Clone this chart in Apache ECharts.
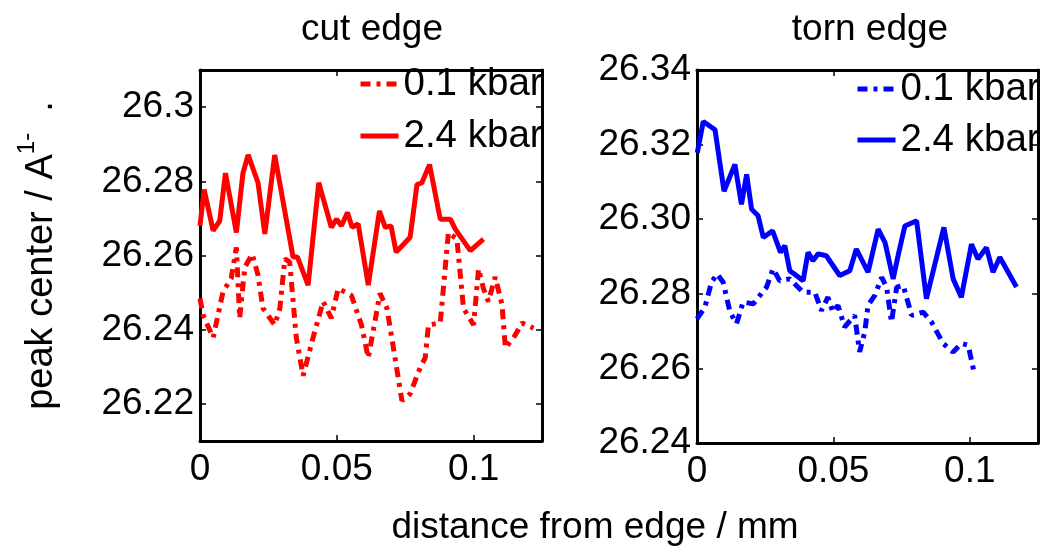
<!DOCTYPE html>
<html>
<head>
<meta charset="utf-8">
<script src="https://cdn.jsdelivr.net/npm/echarts@6/dist/echarts.min.js"></script>
<style>
html,body{margin:0;padding:0;background:#fff;}
#chart{width:1041px;height:551px;}
</style>
</head>
<body>
<div id="chart"></div>
<script>
// ---- data ----
var cutX01 = [0, 0.0011, 0.0048, 0.0066, 0.0084, 0.0114, 0.0133, 0.0145, 0.0164, 0.0191, 0.0212, 0.023, 0.0273, 0.0292, 0.031, 0.0328, 0.0352, 0.0377, 0.0413, 0.045, 0.048, 0.0505, 0.0553, 0.059, 0.0615, 0.0658, 0.0683, 0.0701, 0.0738, 0.0768, 0.0805, 0.0823, 0.0835, 0.0878, 0.0908, 0.0939, 0.0963, 0.1, 0.1018, 0.1036, 0.1054, 0.1079, 0.1104, 0.1116, 0.1146, 0.1177, 0.1219];
var cutY01 = [26.2484, 26.244, 26.2378, 26.244, 26.2502, 26.2538, 26.2622, 26.2431, 26.2569, 26.2604, 26.2547, 26.2458, 26.2413, 26.2458, 26.2591, 26.2582, 26.2378, 26.2276, 26.2378, 26.2476, 26.2431, 26.2511, 26.2493, 26.2413, 26.2324, 26.2498, 26.2458, 26.2378, 26.2209, 26.2227, 26.2298, 26.2324, 26.2413, 26.2418, 26.2662, 26.2644, 26.2458, 26.2413, 26.2564, 26.2511, 26.2476, 26.2542, 26.2467, 26.2351, 26.2378, 26.2418, 26.2404];
var cutX24 = [0, 0.0015, 0.0048, 0.0072, 0.0093, 0.0133, 0.0157, 0.0176, 0.0212, 0.0237, 0.0273, 0.034, 0.0356, 0.0395, 0.0434, 0.048, 0.0499, 0.0517, 0.0539, 0.0556, 0.0578, 0.0615, 0.0656, 0.0677, 0.0698, 0.0717, 0.0768, 0.0793, 0.0811, 0.0839, 0.0878, 0.0915, 0.0933, 0.0988, 0.1036];
var cutY24 = [26.268, 26.2778, 26.2667, 26.2693, 26.2822, 26.2662, 26.2822, 26.2871, 26.2796, 26.2658, 26.2871, 26.2596, 26.2596, 26.252, 26.2796, 26.2676, 26.2698, 26.268, 26.2716, 26.2676, 26.2685, 26.252, 26.272, 26.2676, 26.268, 26.2609, 26.2649, 26.2791, 26.2796, 26.2845, 26.2698, 26.2698, 26.2671, 26.2613, 26.2644];
var tornX01 = [0, 0.0029, 0.0053, 0.0074, 0.0096, 0.0121, 0.0145, 0.0169, 0.0206, 0.0255, 0.0279, 0.0303, 0.034, 0.0389, 0.0432, 0.0456, 0.048, 0.0498, 0.0517, 0.0541, 0.0578, 0.0596, 0.0615, 0.0627, 0.0652, 0.0677, 0.0695, 0.0713, 0.0732, 0.0756, 0.0787, 0.0829, 0.086, 0.0902, 0.0939, 0.0969, 0.0994, 0.1018];
var tornY01 = [26.2733, 26.2764, 26.2831, 26.2853, 26.2831, 26.2751, 26.272, 26.2778, 26.2773, 26.2818, 26.2867, 26.2835, 26.284, 26.2804, 26.2804, 26.2755, 26.2791, 26.2751, 26.2769, 26.2711, 26.2742, 26.2644, 26.2698, 26.2769, 26.2796, 26.2844, 26.2818, 26.2724, 26.2818, 26.2822, 26.2742, 26.2751, 26.2724, 26.2667, 26.2644, 26.2667, 26.2662, 26.2582];
var tornX24 = [0.0001, 0.0023, 0.0066, 0.0099, 0.0139, 0.0163, 0.0182, 0.02, 0.0224, 0.0243, 0.0277, 0.0306, 0.0322, 0.034, 0.0364, 0.0389, 0.0407, 0.0425, 0.0444, 0.0474, 0.0523, 0.056, 0.0584, 0.0627, 0.0664, 0.0689, 0.0719, 0.0737, 0.0762, 0.0805, 0.0841, 0.0905, 0.0939, 0.0969, 0.1006, 0.103, 0.1061, 0.1085, 0.111, 0.1171];
var tornY24 = [26.3178, 26.3262, 26.324, 26.3075, 26.3147, 26.304, 26.312, 26.3027, 26.3009, 26.2951, 26.2969, 26.2911, 26.2929, 26.2862, 26.2849, 26.2835, 26.2911, 26.2889, 26.2907, 26.2902, 26.2849, 26.2862, 26.292, 26.2858, 26.2973, 26.2938, 26.284, 26.2902, 26.2982, 26.2996, 26.2787, 26.2978, 26.284, 26.2791, 26.2933, 26.2893, 26.2924, 26.2858, 26.2898, 26.2818];

var xTicks = [0, 0.05, 0.1];
var cutYTicks = [26.22, 26.24, 26.26, 26.28, 26.3];
var tornYTicks = [26.24, 26.26, 26.28, 26.3, 26.32, 26.34];
var seriesLabels = {cut01: '0.1 kbar', cut24: '2.4 kbar', torn01: '0.1 kbar', torn24: '2.4 kbar'};

// ---- build ----
function zip(xs, ys) { return xs.map(function (x, i) { return [x, ys[i]]; }); }
var FONT = '"Liberation Sans", Arial, Helvetica, sans-serif';
var FS = 37;
var LFS = 38.5;
var LW = 5;
var DASH = [10, 6, 4, 6];

function xAx(grid, bottom) {
  return {
    type: 'value', gridIndex: grid, position: bottom ? 'bottom' : 'top',
    min: 0, max: 0.125,
    axisLine: {show: true, onZero: false, lineStyle: {color: '#000', width: 3}},
    axisTick: {show: true, inside: true, length: 6, customValues: xTicks, lineStyle: {color: '#000', width: 1.5}},
    axisLabel: {show: bottom, customValues: xTicks, margin: 10, color: '#000', fontSize: FS, fontFamily: FONT,
      formatter: function (v) { return String(+(+v).toFixed(3)); }},
    splitLine: {show: false}
  };
}
function yAx(grid, left, min, max, ticks, digits, extra) {
  var a = {
    type: 'value', gridIndex: grid, position: left ? 'left' : 'right',
    min: min, max: max,
    axisLine: {show: true, onZero: false, lineStyle: {color: '#000', width: 3}},
    axisTick: {show: true, inside: true, length: 6, customValues: ticks, lineStyle: {color: '#000', width: 1.5}},
    axisLabel: {show: left, customValues: ticks, margin: 6, color: '#000', fontSize: FS, fontFamily: FONT,
      formatter: function (v) { return digits === 2 ? (+v).toFixed(2) : String(+(+v).toFixed(2)); }},
    splitLine: {show: false}
  };
  if (extra) Object.assign(a, extra);
  return a;
}

function lineSeries(name, xs, ys, color, dashed, xi, yi, z) {
  return {
    name: name, type: 'line', data: zip(xs, ys), xAxisIndex: xi, yAxisIndex: yi,
    symbol: 'none', showSymbol: false, z: z,
    lineStyle: {color: color, width: LW, type: dashed ? DASH : 'solid'},
    itemStyle: {color: color},
    animation: false
  };
}

function legendItem(name, color, dashed) {
  return {
    name: name,
    itemStyle: {opacity: 0, borderWidth: 0},
    lineStyle: {color: color, width: LW, type: dashed ? DASH : 'solid'}
  };
}

var chart = echarts.init(document.getElementById('chart'), null, {renderer: 'canvas'});
var option = {
  backgroundColor: '#fff',
  animation: false,
  textStyle: {fontFamily: FONT},
  title: [
    {text: 'cut edge', left: 367, top: 6, textAlign: 'center', textStyle: {fontSize: FS, fontWeight: 'normal', color: '#000', fontFamily: FONT}},
    {text: 'torn edge', left: 865, top: 6, textAlign: 'center', textStyle: {fontSize: FS, fontWeight: 'normal', color: '#000', fontFamily: FONT}},
    {text: 'distance from edge / mm', left: 590, top: 504, textAlign: 'center', textStyle: {fontSize: FS, fontWeight: 'normal', color: '#000', fontFamily: FONT}}
  ],
  grid: [
    {left: 200, top: 70, width: 342, height: 371},
    {left: 697, top: 70, width: 341, height: 373}
  ],
  legend: [
    {data: [legendItem('cut01', '#ff0000', true), legendItem('cut24', '#ff0000', false)],
     orient: 'vertical', left: 358, top: 64, padding: 0,
     itemWidth: 38, itemHeight: 14, itemGap: 12,
     itemStyle: {opacity: 0, borderWidth: 0},
     formatter: function (n) { return seriesLabels[n]; },
     textStyle: {fontSize: LFS, color: '#000', fontFamily: FONT, lineHeight: 40}},
    {data: [legendItem('torn01', '#0000ff', true), legendItem('torn24', '#0000ff', false)],
     orient: 'vertical', left: 855, top: 69, padding: 0,
     itemWidth: 38, itemHeight: 14, itemGap: 11,
     itemStyle: {opacity: 0, borderWidth: 0},
     formatter: function (n) { return seriesLabels[n]; },
     textStyle: {fontSize: LFS, color: '#000', fontFamily: FONT, lineHeight: 40}}
  ],
  xAxis: [xAx(0, true), xAx(0, false), xAx(1, true), xAx(1, false)],
  yAxis: [
    yAx(0, true, 26.21, 26.31, cutYTicks, 1, {
      name: '{a|peak center / A}{b|1-}{a|  .}', nameLocation: 'middle', nameGap: 139,
      nameTextStyle: {rich: {
        a: {fontSize: 38, color: '#000', fontFamily: FONT, lineHeight: 46, verticalAlign: 'bottom'},
        b: {fontSize: 24, color: '#000', fontFamily: FONT, lineHeight: 46, verticalAlign: 'top'}
      }}
    }),
    yAx(0, false, 26.21, 26.31, cutYTicks, 1),
    yAx(1, true, 26.24, 26.34, tornYTicks, 2),
    yAx(1, false, 26.24, 26.34, tornYTicks, 2)
  ],
  series: [
    lineSeries('cut01', cutX01, cutY01, '#ff0000', true, 0, 0, 2),
    lineSeries('cut24', cutX24, cutY24, '#ff0000', false, 0, 0, 3),
    lineSeries('torn01', tornX01, tornY01, '#0000ff', true, 2, 2, 2),
    lineSeries('torn24', tornX24, tornY24, '#0000ff', false, 2, 2, 3)
  ]
};
chart.setOption(option);
</script>
</body>
</html>
